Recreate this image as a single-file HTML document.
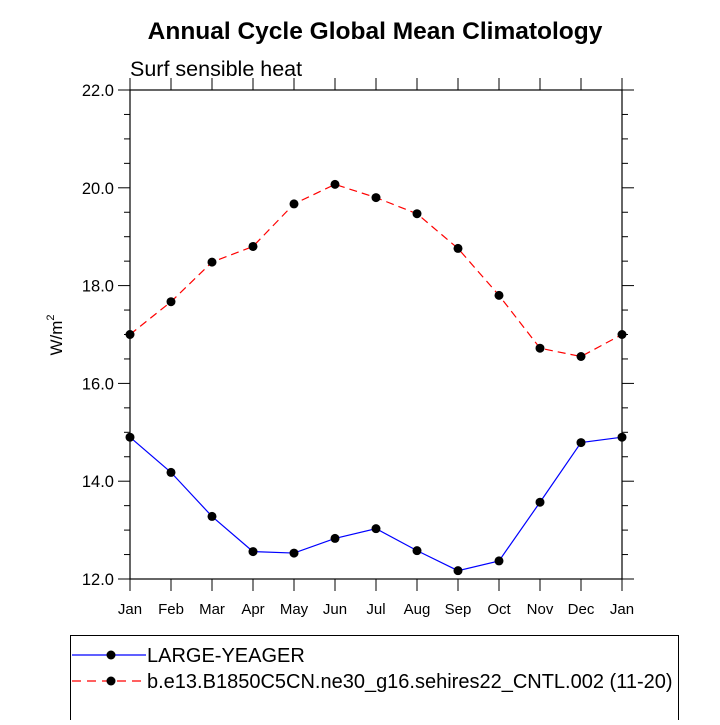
<!DOCTYPE html>
<html><head><meta charset="utf-8"><style>
body{margin:0;background:#fff;width:720px;height:720px;overflow:hidden}
svg text{font-family:"Liberation Sans",Arial,sans-serif;fill:#000}
</style></head><body>
<svg id="c" width="720" height="720" viewBox="0 0 720 720">
<text x="375" y="39" text-anchor="middle" font-size="24.5" font-weight="bold">Annual Cycle Global Mean Climatology</text>
<text x="130" y="76" font-size="21.5">Surf sensible heat</text>
<text transform="translate(62,335) rotate(-90)" text-anchor="middle" font-size="17">W/m<tspan font-size="11" dy="-8">2</tspan></text>
<g id="axes"></g>
<g id="series"></g>
<g>
<rect x="70.5" y="635.5" width="608" height="90" fill="none" stroke="#000" stroke-width="1"/>
<g>
<line x1="72" y1="655" x2="146" y2="655" stroke="#0000ff" stroke-width="1.2"/>
<circle cx="111" cy="655" r="4.5" fill="#000"/>
<text x="147" y="662" font-size="20">LARGE-YEAGER</text></g>
<g>
<line x1="72" y1="681" x2="146" y2="681" stroke="#ff0000" stroke-width="1.2" stroke-dasharray="9,6"/>
<circle cx="111" cy="681" r="4.5" fill="#000"/>
<text x="147" y="688" font-size="20">b.e13.B1850C5CN.ne30_g16.sehires22_CNTL.002 (11-20)</text></g>
</g>
</svg>
<script>
const months=["Jan","Feb","Mar","Apr","May","Jun","Jul","Aug","Sep","Oct","Nov","Dec","Jan"];
const largeYeager=[14.90,14.18,13.28,12.56,12.53,12.83,13.03,12.58,12.17,12.37,13.57,14.79,14.90];
const cntl=[17.00,17.67,18.48,18.80,19.67,20.07,19.80,19.47,18.76,17.80,16.72,16.55,17.00];
const yTicks=[12,14,16,18,20,22];
const yTickLabels=["12.0","14.0","16.0","18.0","20.0","22.0"];
const X0=130,X1=622,Y0=579,Y1=90,YMIN=12,YMAX=22;
const ns="http://www.w3.org/2000/svg";
function xs(i){return X0+(X1-X0)*i/(months.length-1);}
function ys(v){return Y0-(v-YMIN)/(YMAX-YMIN)*(Y0-Y1);}
function mk(t,a,p){const e=document.createElementNS(ns,t);for(const k in a)e.setAttribute(k,a[k]);p.appendChild(e);return e;}
const ax=document.getElementById('axes');
const fr=mk('rect',{x:X0,y:Y1,width:X1-X0,height:Y0-Y1,fill:'none',stroke:'#000','stroke-width':1.2},ax);


for(let v=YMIN;v<=YMAX+1e-9;v+=0.5){
 const major=Math.abs(v-Math.round(v/2)*2)<1e-9;const L=major?12:6;const y=ys(v);
 mk('line',{x1:X0-L,y1:y,x2:X0,y2:y,stroke:'#000','stroke-width':1},ax);
 mk('line',{x1:X1,y1:y,x2:X1+L,y2:y,stroke:'#000','stroke-width':1},ax);
}
yTicks.forEach((v,i)=>{const t=mk('text',{x:X0-16,y:ys(v)+6,'text-anchor':'end','font-size':16.5},ax);t.textContent=yTickLabels[i];
 
 });
months.forEach((m,i)=>{const x=xs(i);
 mk('line',{x1:x,y1:Y0,x2:x,y2:Y0+12,stroke:'#000','stroke-width':1},ax);
 mk('line',{x1:x,y1:Y1-12,x2:x,y2:Y1,stroke:'#000','stroke-width':1},ax);
 const t=mk('text',{x:x,y:Y0+35,'text-anchor':'middle','font-size':15},ax);t.textContent=m;
 
 });
const sg=document.getElementById('series');
function draw(vals,color,dash,name){
 const g=mk('g',{},sg);
 
 
 const p=mk('polyline',{points:vals.map((v,i)=>xs(i)+','+ys(v)).join(' '),fill:'none',stroke:color,'stroke-width':1.2},g);
 if(dash)p.setAttribute('stroke-dasharray',dash);
 vals.forEach((v,i)=>{const c=mk('circle',{cx:xs(i),cy:ys(v),r:4.5,fill:'#000'},g);
  
  });
}
draw(cntl,'#ff0000','8,5','series-cntl');
draw(largeYeager,'#0000ff',null,'series-large-yeager');
</script>
</body></html>
